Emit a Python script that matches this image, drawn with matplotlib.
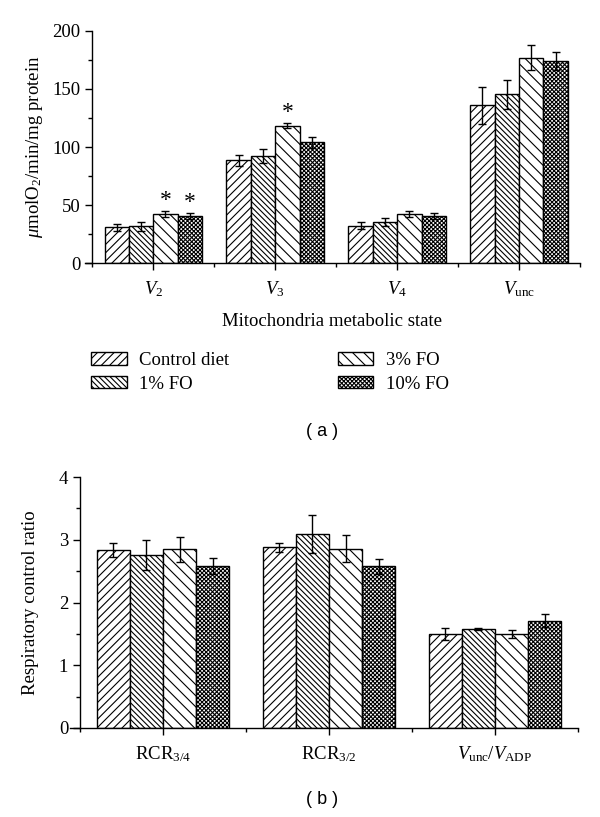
import matplotlib
matplotlib.use('Agg')
import matplotlib.pyplot as plt
import numpy as np
from matplotlib.ticker import MultipleLocator, FixedLocator

plt.rcParams['font.family'] = ['Liberation Serif', 'DejaVu Serif']
plt.rcParams['mathtext.fontset'] = 'custom'
plt.rcParams['mathtext.rm'] = 'Liberation Serif'
plt.rcParams['mathtext.it'] = 'Liberation Serif:italic'
plt.rcParams['hatch.linewidth'] = 0.8

# ---------------- data ----------------
series = ['Control diet', '1% FO', '3% FO', '10% FO']
hatches = ['////', '\\\\\\\\\\\\', '\\\\\\', 'xxxxxxxx']

cats_a = [r'$V_2$', r'$V_3$', r'$V_4$', r'$V_{\mathrm{unc}}$']
control_a = [31, 88.5, 32, 136]
fo1_a = [31.5, 92.5, 35, 145.5]
fo3_a = [42.5, 118.5, 42, 177]
fo10_a = [40.5, 104, 40.5, 174]
control_a_err = [3, 5, 3, 16]
fo1_a_err = [3.5, 6, 3.5, 12.5]
fo3_a_err = [2.5, 2.5, 2.5, 11]
fo10_a_err = [3, 4.5, 2.5, 8]
# significance stars (per series, per category)
control_a_star = [False, False, False, False]
fo1_a_star = [False, False, False, False]
fo3_a_star = [True, True, False, False]
fo10_a_star = [True, False, False, False]

cats_b = [r'RCR$_{\mathrm{3/4}}$', r'RCR$_{\mathrm{3/2}}$',
          r'$V_{\mathrm{unc}}/V_{\mathrm{ADP}}$']
control_b = [2.84, 2.88, 1.50]
fo1_b = [2.75, 3.09, 1.575]
fo3_b = [2.85, 2.86, 1.50]
fo10_b = [2.585, 2.575, 1.71]
control_b_err = [0.11, 0.07, 0.09]
fo1_b_err = [0.24, 0.30, 0.015]
fo3_b_err = [0.20, 0.21, 0.065]
fo10_b_err = [0.13, 0.12, 0.10]

vals_a = [control_a, fo1_a, fo3_a, fo10_a]
errs_a = [control_a_err, fo1_a_err, fo3_a_err, fo10_a_err]
stars_a = [control_a_star, fo1_a_star, fo3_a_star, fo10_a_star]
vals_b = [control_b, fo1_b, fo3_b, fo10_b]
errs_b = [control_b_err, fo1_b_err, fo3_b_err, fo10_b_err]

W, H = 600, 817
fig = plt.figure(figsize=(W / 100, H / 100), dpi=100)

FS = 13.5
width = 0.2
offsets = [-0.3, -0.1, 0.1, 0.3]
ekw = dict(ecolor='black', elinewidth=1.0, capsize=3.2, capthick=1.0)


def style_axis(ax, ncat, ymax, ymajor, yminor):
    ax.set_xlim(-0.56, ncat - 0.5)
    ax.set_ylim(0, ymax)
    for s in ['top', 'right']:
        ax.spines[s].set_visible(False)
    ax.spines['left'].set_position(('data', -0.5))
    ax.spines['left'].set_linewidth(1.0)
    ax.spines['bottom'].set_linewidth(1.0)
    ax.yaxis.set_major_locator(MultipleLocator(ymajor))
    ax.yaxis.set_minor_locator(MultipleLocator(yminor))
    ax.xaxis.set_minor_locator(FixedLocator(np.arange(-0.5, ncat, 1.0)))
    ax.tick_params(axis='both', which='major', direction='out', length=5,
                   width=1.0, labelsize=FS)
    ax.tick_params(axis='both', which='minor', direction='out', length=3,
                   width=1.0)
    ax.tick_params(axis='x', which='major', pad=7)


# ---------------- panel (a) ----------------
ax1 = fig.add_axes([85 / W, 1 - 263 / H, 495 / W, 232 / H])
xa = np.arange(len(cats_a))
handles = []
for i, (v, e, h, name) in enumerate(zip(vals_a, errs_a, hatches, series)):
    b = ax1.bar(xa + offsets[i], v, width, color='white', edgecolor='black',
                hatch=h, linewidth=1.0, yerr=e, error_kw=ekw, label=name)
    handles.append(b)
    for j, st in enumerate(stars_a[i]):
        if st:
            ax1.text(xa[j] + offsets[i], v[j] + e[j] + 9, '*',
                     ha='center', va='center', fontsize=17)
style_axis(ax1, len(cats_a), 200, 50, 25)
ax1.set_xticks(xa)
ax1.set_xticklabels(cats_a)
ax1.set_ylabel(r'$\mu$molO$_2$/min/mg protein', fontsize=FS, labelpad=5)
ax1.set_xlabel('Mitochondria metabolic state', fontsize=FS, labelpad=10)

fig.legend(handles, series, ncol=2, loc='upper left',
           bbox_to_anchor=(91 / W, 1 - 352 / H), frameon=False,
           fontsize=FS, borderpad=0, borderaxespad=0, handlelength=1.9,
           handleheight=0.65, handletextpad=0.65, columnspacing=5.8,
           labelspacing=0.35)

fig.text(322 / W, 1 - 432 / H, '( a )', ha='center', va='center',
         fontsize=13, family='Liberation Sans')

# ---------------- panel (b) ----------------
ax2 = fig.add_axes([70 / W, 1 - 728 / H, 508 / W, 251 / H])
xb = np.arange(len(cats_b))
for i, (v, e, h, name) in enumerate(zip(vals_b, errs_b, hatches, series)):
    ax2.bar(xb + offsets[i], v, width, color='white', edgecolor='black',
            hatch=h, linewidth=1.0, yerr=e, error_kw=ekw, label=name)
style_axis(ax2, len(cats_b), 4, 1, 0.5)
ax2.set_xticks(xb)
ax2.set_xticklabels(cats_b)
ax2.set_ylabel('Respiratory control ratio', fontsize=FS, labelpad=14)

fig.text(322 / W, 1 - 800 / H, '( b )', ha='center', va='center',
         fontsize=13, family='Liberation Sans')

fig.savefig('out.png', dpi=100)
